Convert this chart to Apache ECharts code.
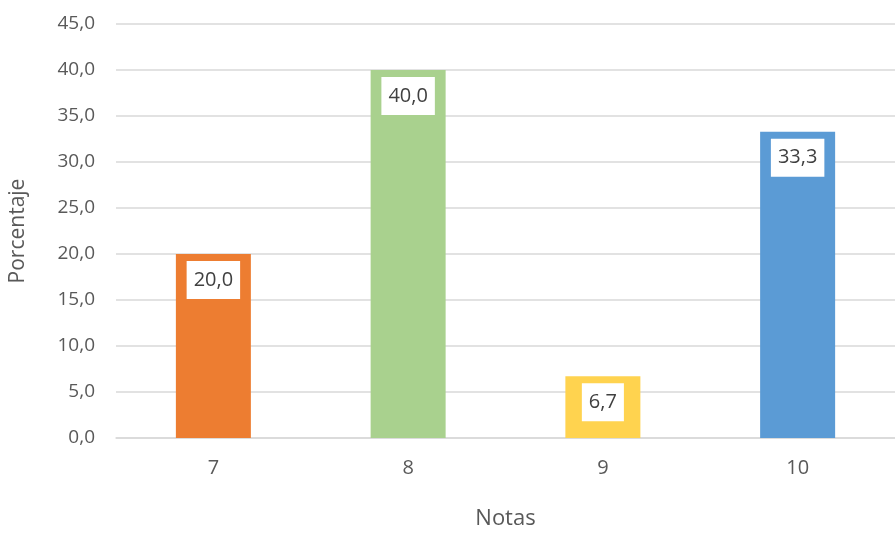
<!DOCTYPE html>
<html>
<head>
<meta charset="utf-8">
<script src="https://cdn.jsdelivr.net/npm/echarts@6/dist/echarts.min.js"></script>
<style>html,body{margin:0;padding:0;background:#fff}#c{width:895px;height:535px}</style>
</head>
<body>
<div id="c"></div>
<script>
const categories = ['7', '8', '9', '10'];
const values = [20.0, 40.0, 6.7, 33.3];
const barColors = ['#ED7D31', '#A9D18E', '#FFD34F', '#5B9BD5'];
const yTicks = { min: 0, max: 45, interval: 5 };

const fmt = v => v.toFixed(1).replace('.', ',');
const chart = echarts.init(document.getElementById('c'));
chart.setOption({
  animation: false,
  backgroundColor: '#fff',
  textStyle: { fontFamily: 'Open Sans' },
  grid: { left: 108, right: -3, top: 24, bottom: 83, containLabel: false },
  xAxis: {
    type: 'category',
    data: categories,
    name: 'Notas',
    nameLocation: 'middle',
    nameGap: 70,
    nameTextStyle: { color: '#595959', fontSize: 22 },
    axisLine: { lineStyle: { color: '#d9d9d9', width: 1.5 } },
    axisTick: { show: false },
    axisLabel: { color: '#595959', fontSize: 20, margin: 20 }
  },
  yAxis: {
    type: 'value',
    min: yTicks.min, max: yTicks.max, interval: yTicks.interval,
    name: 'Porcentaje',
    nameLocation: 'middle',
    nameGap: 87,
    nameTextStyle: { color: '#595959', fontSize: 21 },
    axisLine: { show: false },
    axisTick: { show: false },
    axisLabel: { color: '#595959', fontSize: 19, margin: 21, formatter: v => fmt(v) },
    splitLine: { lineStyle: { color: '#d9d9d9', width: 1.5 } }
  },
  series: [{
    type: 'bar',
    barWidth: 75,
    data: values.map((v, i) => ({ value: v, itemStyle: { color: barColors[i] } })),
    label: {
      show: true,
      position: 'insideTop',
      distance: 7,
      color: '#404040',
      fontSize: 20,
      lineHeight: 24,
      backgroundColor: '#fff',
      padding: [7, 7, 7, 7],
      formatter: p => fmt(p.value)
    }
  }]
});
</script>
</body>
</html>
